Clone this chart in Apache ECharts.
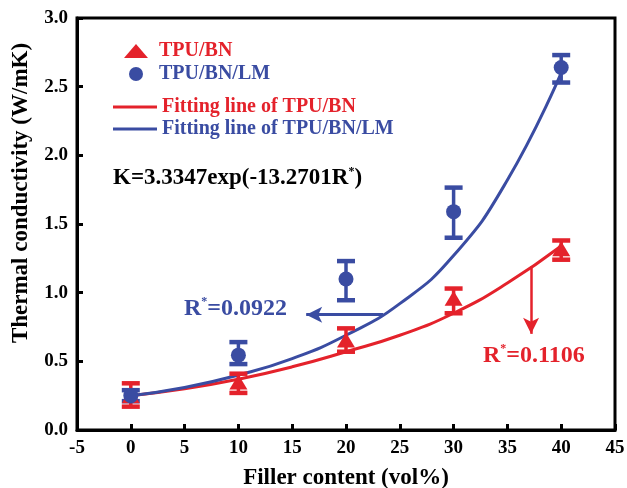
<!DOCTYPE html>
<html>
<head>
<meta charset="utf-8">
<script src="https://cdn.jsdelivr.net/npm/echarts@6/dist/echarts.min.js"></script>
<style>
  html, body { margin: 0; padding: 0; background: #fff; }
  #chart { width: 627px; height: 488px; }
</style>
</head>
<body>
<div id="chart"></div>
<script>
// measured points (vol% filler)
const fillerX = [0, 10, 20, 30, 40]
const bnK = [0.25, 0.35, 0.655, 0.96, 1.32]
const bnLow = [0.17, 0.27, 0.57, 0.85, 1.24]
const bnHigh = [0.34, 0.41, 0.74, 1.03, 1.38]
const lmK = [0.25, 0.545, 1.10, 1.59, 2.64]
const lmLow = [0.21, 0.48, 0.945, 1.40, 2.53]
const lmHigh = [0.29, 0.64, 1.23, 1.765, 2.73]

// fitting curves
const fitX = [0, 5, 10, 15, 20, 25, 30, 35, 40]
const fitBN = [0.25, 0.30, 0.37, 0.46, 0.57, 0.69, 0.85, 1.07, 1.34]
const fitLM = [0.25, 0.31, 0.40, 0.52, 0.69, 0.92, 1.27, 1.82, 2.60]

const RED = '#e4222b'
const BLUE = '#3a4ca2'
const FONT = 'Liberation Serif'

const pairs = (xs, ys) => xs.map((x, i) => [x, ys[i]])
const bars = (xs, lo, hi) => xs.map((x, i) => [x, lo[i], hi[i]])

function errorBar (color) {
  return function (params, api) {
    const x = api.value(0)
    const top = api.coord([x, api.value(2)])
    const bot = api.coord([x, api.value(1)])
    const w = 9
    return {
      type: 'group',
      children: [
        { type: 'line', shape: { x1: top[0], y1: top[1], x2: bot[0], y2: bot[1] }, style: { stroke: color, lineWidth: 3.5 } },
        { type: 'line', shape: { x1: top[0] - w, y1: top[1], x2: top[0] + w, y2: top[1] }, style: { stroke: color, lineWidth: 4.5 } },
        { type: 'line', shape: { x1: bot[0] - w, y1: bot[1], x2: bot[0] + w, y2: bot[1] }, style: { stroke: color, lineWidth: 4.5 } }
      ]
    }
  }
}

function supText (str, color, size) {
  return {
    text: '{n|' + str[0] + '}{s|*}{n|' + str[1] + '}',
    rich: {
      n: { fontFamily: FONT, fontWeight: 'bold', fontSize: size, fill: color, lineHeight: size + 4 },
      s: { fontFamily: FONT, fontWeight: 'bold', fontSize: Math.round(size / 2), fill: color, lineHeight: size + 4, padding: [0, 0, Math.round(size * 0.55), 0] }
    }
  }
}

const myChart = echarts.init(document.getElementById('chart'))
const options = {
  animation: false,
  backgroundColor: '#fff',
  textStyle: { fontFamily: FONT, fontWeight: 'bold' },
  grid: {
    left: 77,
    right: 12,
    top: 18,
    bottom: 58,
    outerBoundsMode: 'none',
    show: true,
    borderColor: '#000',
    borderWidth: 3
  },
  legend: [
    {
      orient: 'vertical',
      left: 119,
      top: 36,
      itemWidth: 24,
      itemHeight: 14,
      itemGap: 3,
      textStyle: { fontFamily: FONT, fontWeight: 'bold', fontSize: 20, padding: [0, 0, 0, 6] },
      data: [
        { name: 'TPU/BN', icon: 'triangle', itemStyle: { color: RED }, textStyle: { color: RED } },
        { name: 'TPU/BN/LM', icon: 'circle', itemStyle: { color: BLUE }, textStyle: { color: BLUE } }
      ]
    },
    {
      orient: 'vertical',
      left: 108,
      top: 92,
      itemWidth: 44,
      itemHeight: 3,
      itemGap: 2,
      textStyle: { fontFamily: FONT, fontWeight: 'bold', fontSize: 20 },
      data: [
        { name: 'Fitting line of TPU/BN', icon: 'rect', itemStyle: { color: RED }, textStyle: { color: RED } },
        { name: 'Fitting line of TPU/BN/LM', icon: 'rect', itemStyle: { color: BLUE }, textStyle: { color: BLUE } }
      ]
    }
  ],
  xAxis: {
    type: 'value',
    min: -5,
    max: 45,
    interval: 5,
    name: 'Filler content (vol%)',
    nameLocation: 'middle',
    nameGap: 37,
    nameTextStyle: { fontFamily: FONT, fontWeight: 'bold', fontSize: 23, color: '#000' },
    axisLine: { onZero: false, lineStyle: { color: '#000', width: 3 } },
    axisTick: { inside: true, length: 6, lineStyle: { color: '#000', width: 3 } },
    axisLabel: { color: '#000', fontFamily: FONT, fontWeight: 'bold', fontSize: 19, margin: 9 },
    splitLine: { show: false }
  },
  yAxis: {
    type: 'value',
    min: 0,
    max: 3,
    interval: 0.5,
    name: 'Thermal conductivity (W/mK)',
    nameLocation: 'middle',
    nameGap: 44,
    nameTextStyle: { fontFamily: FONT, fontWeight: 'bold', fontSize: 23, color: '#000', padding: [0, 0, 0, 62] },
    axisLine: { onZero: false, lineStyle: { color: '#000', width: 3 } },
    axisTick: { inside: true, length: 6, lineStyle: { color: '#000', width: 3 } },
    axisLabel: {
      color: '#000', fontFamily: FONT, fontWeight: 'bold', fontSize: 19, margin: 9,
      formatter: v => v.toFixed(1)
    },
    splitLine: { show: false }
  },
  series: [
    {
      name: 'Fitting line of TPU/BN',
      type: 'line',
      data: pairs(fitX, fitBN),
      smooth: 0.5,
      symbol: 'none',
      color: RED,
      lineStyle: { color: RED, width: 3 },
      z: 2,
      markLine: {
        silent: true,
        symbol: ['none', 'arrow'],
        symbolSize: [12, 16],
        label: { show: false },
        lineStyle: { color: RED, width: 2.5, type: 'solid' },
        data: [[{ coord: [37.2, 1.19] }, { coord: [37.2, 0.7] }]]
      }
    },
    {
      name: 'Fitting line of TPU/BN/LM',
      type: 'line',
      data: pairs(fitX, fitLM),
      smooth: 0.5,
      symbol: 'none',
      color: BLUE,
      lineStyle: { color: BLUE, width: 3 },
      z: 2,
      markLine: {
        silent: true,
        symbol: ['none', 'arrow'],
        symbolSize: [12, 16],
        label: { show: false },
        lineStyle: { color: BLUE, width: 3, type: 'solid' },
        data: [[{ coord: [23.45, 0.84] }, { coord: [16.3, 0.84] }]]
      }
    },
    {
      name: 'TPU/BN error',
      type: 'custom',
      renderItem: errorBar(RED),
      encode: { x: 0, y: [1, 2] },
      data: bars(fillerX, bnLow, bnHigh),
      z: 3
    },
    {
      name: 'TPU/BN/LM error',
      type: 'custom',
      renderItem: errorBar(BLUE),
      encode: { x: 0, y: [1, 2] },
      data: bars(fillerX, lmLow, lmHigh),
      z: 3
    },
    {
      name: 'TPU/BN',
      type: 'scatter',
      data: pairs(fillerX, bnK),
      symbol: 'triangle',
      symbolSize: [18, 15],
      itemStyle: { color: RED, opacity: 1 },
      z: 4
    },
    {
      name: 'TPU/BN/LM',
      type: 'scatter',
      data: pairs(fillerX, lmK),
      symbol: 'circle',
      symbolSize: 15,
      itemStyle: { color: BLUE, opacity: 1 },
      z: 5
    }
  ],
  graphic: [
    {
      type: 'text',
      left: 113,
      top: 166,
      style: supText(['K=3.3347exp(-13.2701R', ')'], '#000', 23)
    },
    {
      type: 'text',
      left: 184,
      top: 296,
      style: supText(['R', '=0.0922'], BLUE, 24)
    },
    {
      type: 'text',
      left: 483,
      top: 343,
      style: supText(['R', '=0.1106'], RED, 24)
    }
  ]
}
myChart.setOption(options)
</script>
</body>
</html>
